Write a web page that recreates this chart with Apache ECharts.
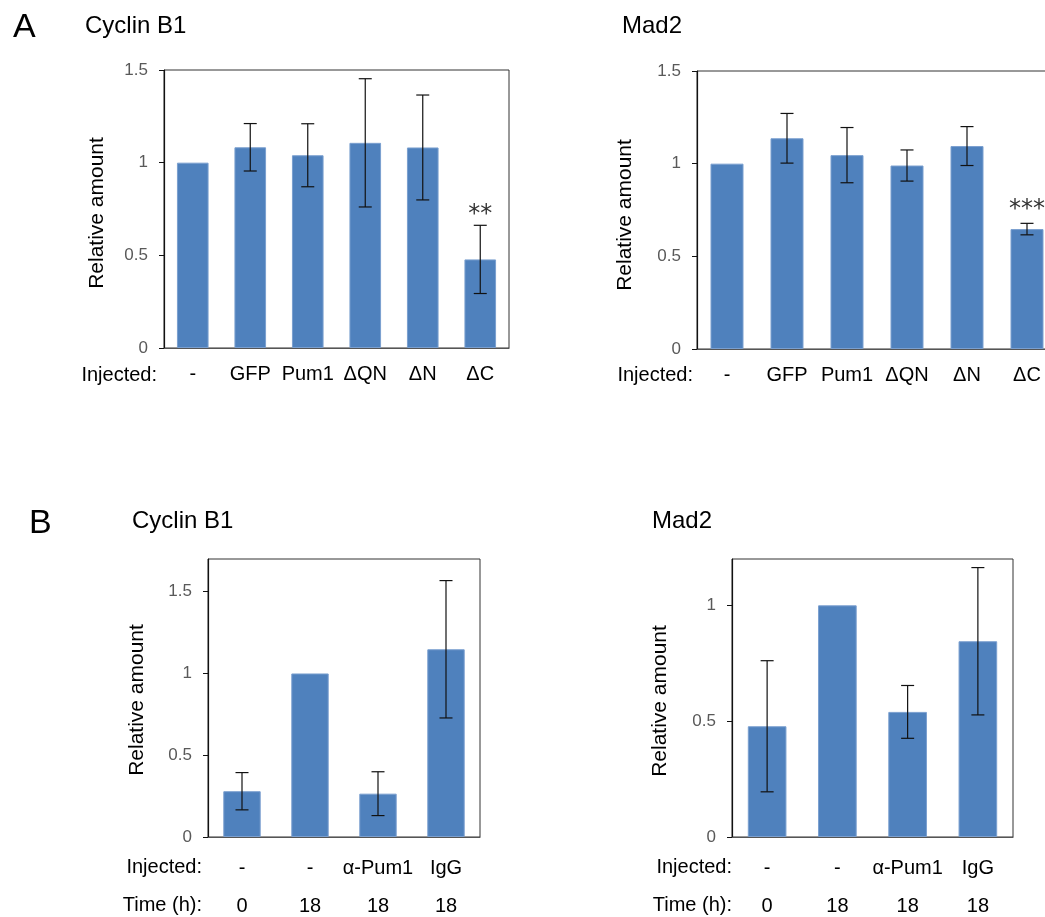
<!DOCTYPE html>
<html>
<head>
<meta charset="utf-8">
<script src="https://cdn.jsdelivr.net/npm/echarts@6/dist/echarts.min.js"></script>
<style>
html,body{margin:0;padding:0;background:#fff;}
#chart{width:1045px;height:917px;}
</style>
</head>
<body>
<div id="chart"></div>
<script>
// ---- data ----
const catsA = ['-', 'GFP', 'Pum1', 'ΔQN', 'ΔN', 'ΔC'];
const cyclinA = [1, 1.083, 1.04, 1.107, 1.082, 0.478];
const cyclinAErr = [0, 0.128, 0.17, 0.346, 0.283, 0.184];
const cyclinASig = ['', '', '', '', '', '**'];
const mad2A = [1, 1.137, 1.046, 0.99, 1.095, 0.647];
const mad2AErr = [0, 0.134, 0.149, 0.084, 0.105, 0.031];
const mad2ASig = ['', '', '', '', '', '***'];

const injectedB = ['-', '-', 'α-Pum1', 'IgG'];
const timeB = ['0', '18', '18', '18'];
const cyclinB = [0.28, 1, 0.265, 1.148];
const cyclinBErr = [0.114, 0, 0.134, 0.42];
const mad2B = [0.478, 1, 0.54, 0.845];
const mad2BErr = [0.283, 0, 0.114, 0.318];

const ticksA = [0, 0.5, 1, 1.5];
const ticksBCyc = [0, 0.5, 1, 1.5];
const ticksBMad = [0, 0.5, 1];

const catsB = injectedB.map((v, i) => v + '\n' + timeB[i]);

// ---- styles ----
const FONT = '"Liberation Sans", Arial, Helvetica, sans-serif';
const BAR = '#4F81BD';

const grids = [
  {left: 164, top: 70, width: 345, height: 278},
  {left: 697, top: 71, width: 360, height: 278},
  {left: 208, top: 559, width: 272, height: 278},
  {left: 732, top: 559, width: 281, height: 278}
].map(g => Object.assign({show: true, borderColor: '#333', borderWidth: 1, backgroundColor: 'transparent',
  containLabel: false, outerBoundsMode: 'none'}, g));

function xAxis(idx, cats, lineH, margin) {
  return {
    type: 'category', gridIndex: idx, data: cats,
    axisTick: {show: false},
    axisLine: {lineStyle: {color: '#555', width: 1.2}},
    axisLabel: {color: '#000', fontSize: 20, fontFamily: FONT, margin: margin, lineHeight: lineH, interval: 0}
  };
}
function yAxis(idx, max, ticks) {
  return {
    type: 'value', gridIndex: idx, min: 0, max: max, interval: 0.5,
    splitLine: {show: false},
    axisLine: {show: true, lineStyle: {color: '#111', width: 1.2}},
    axisTick: {show: true, length: 5, customValues: ticks, lineStyle: {color: '#111'}},
    axisLabel: {color: '#595959', fontSize: 17, fontFamily: FONT, margin: 16, customValues: ticks}
  };
}

function barSeries(idx, vals) {
  return {
    type: 'bar', xAxisIndex: idx, yAxisIndex: idx, data: vals, barWidth: '55%', z: 2,
    itemStyle: {color: BAR, borderColor: '#7A9FCF', borderWidth: 1},
    silent: true, animation: false
  };
}
function errSeries(idx, vals, errs, sig, sigGap) {
  return {
    type: 'custom', xAxisIndex: idx, yAxisIndex: idx, animation: false, silent: true, z: 10,
    data: vals.map((v, i) => [i, v, errs[i]]),
    renderItem: function (params, api) {
      const i = api.value(0), m = api.value(1), e = api.value(2);
      const children = [];
      const top = api.coord([i, m + e]);
      const bot = api.coord([i, m - e]);
      const cap = 6.5;
      if (e > 0) {
        const ls = {stroke: '#111', lineWidth: 1.2};
        children.push({type: 'line', shape: {x1: top[0], y1: top[1], x2: bot[0], y2: bot[1]}, style: ls});
        children.push({type: 'line', shape: {x1: top[0] - cap, y1: top[1], x2: top[0] + cap, y2: top[1]}, style: ls});
        children.push({type: 'line', shape: {x1: bot[0] - cap, y1: bot[1], x2: bot[0] + cap, y2: bot[1]}, style: ls});
      }
      const s = sig ? sig[params.dataIndex] : '';
      if (s) {
        children.push({type: 'text', x: top[0], y: top[1] - sigGap,
          style: {text: s, fill: '#333', font: '24px "DejaVu Sans", sans-serif', align: 'center', verticalAlign: 'middle'}});
      }
      return {type: 'group', children: children};
    }
  };
}

function txt(x, y, s, size, align, rot) {
  return {type: 'text', x: x, y: y, rotation: rot || 0, silent: true,
    style: {text: s, fill: '#000', font: size + 'px ' + FONT, align: align || 'left', verticalAlign: 'middle'}};
}

const option = {
  animation: false,
  backgroundColor: '#fff',
  grid: grids,
  xAxis: [
    xAxis(0, catsA, 22, 15),
    xAxis(1, catsA, 22, 15),
    xAxis(2, catsB, 38, 12),
    xAxis(3, catsB, 38, 12)
  ],
  yAxis: [
    yAxis(0, 1.5, ticksA),
    yAxis(1, 1.5, ticksA),
    yAxis(2, 1.7, ticksBCyc),
    yAxis(3, 1.2, ticksBMad)
  ],
  series: [
    barSeries(0, cyclinA), errSeries(0, cyclinA, cyclinAErr, cyclinASig, 11),
    barSeries(1, mad2A), errSeries(1, mad2A, mad2AErr, mad2ASig, 14),
    barSeries(2, cyclinB), errSeries(2, cyclinB, cyclinBErr, null, 0),
    barSeries(3, mad2B), errSeries(3, mad2B, mad2BErr, null, 0)
  ],
  graphic: [
    txt(13, 28, 'A', 34),
    txt(29, 524, 'B', 34),
    txt(85, 26, 'Cyclin B1', 24),
    txt(622, 26, 'Mad2', 24),
    txt(132, 521, 'Cyclin B1', 24),
    txt(652, 521, 'Mad2', 24),
    txt(97, 213, 'Relative amount', 21, 'center', Math.PI / 2),
    txt(625, 215, 'Relative amount', 21, 'center', Math.PI / 2),
    txt(137, 700, 'Relative amount', 21, 'center', Math.PI / 2),
    txt(660, 701, 'Relative amount', 21, 'center', Math.PI / 2),
    txt(157, 375, 'Injected:', 20, 'right'),
    txt(693, 375, 'Injected:', 20, 'right'),
    txt(202, 867, 'Injected:', 20, 'right'),
    txt(202, 905, 'Time (h):', 20, 'right'),
    txt(732, 867, 'Injected:', 20, 'right'),
    txt(732, 905, 'Time (h):', 20, 'right')
  ]
};

const chart = echarts.init(document.getElementById('chart'), null, {renderer: 'canvas'});
chart.setOption(option);
</script>
</body>
</html>
